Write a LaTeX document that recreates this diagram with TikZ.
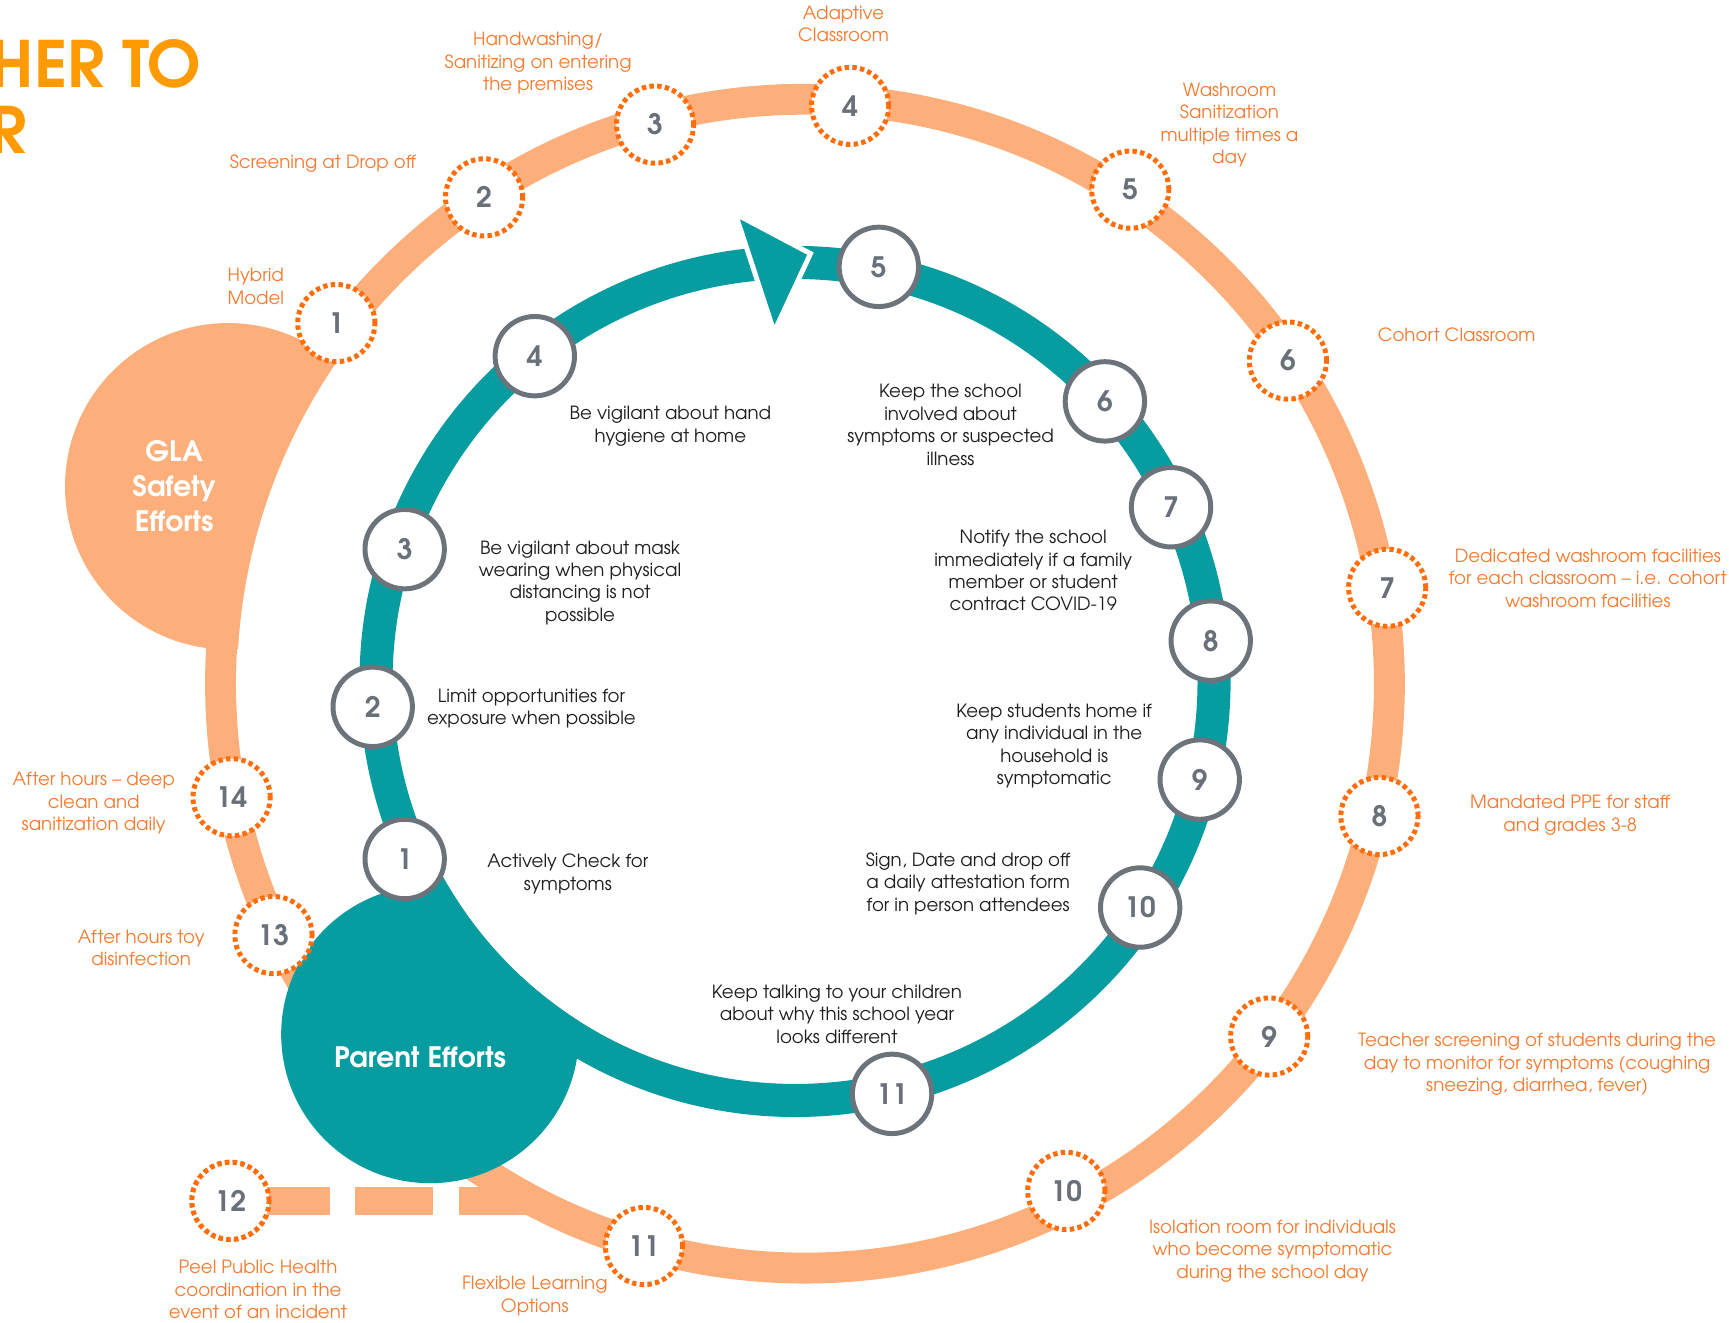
\documentclass[tikz,border=0pt]{standalone}
\usepackage{fontspec}
\setmainfont{texgyreadventor}[Extension=.otf,UprightFont=*-regular,BoldFont=*-bold,ItalicFont=*-italic,BoldItalicFont=*-bolditalic]
\definecolor{ringor}{HTML}{FDAF7B}
\definecolor{dotor}{HTML}{FF6D0A}
\definecolor{labor}{HTML}{F47B30}
\definecolor{titleor}{HTML}{FF9A00}
\definecolor{tealc}{HTML}{079C9F}
\definecolor{grayc}{HTML}{6C737B}
\definecolor{numgray}{HTML}{69707A}
\definecolor{inktext}{HTML}{1E1E1E}
\tikzset{
 ocirc/.style={circle, draw=dotor, line width=4.5pt, dash pattern=on 4pt off 3pt, fill=white, minimum size=70pt, inner sep=0pt, text=numgray, font=\bfseries\fontsize{25.5}{25.5}\selectfont},
 gcirc/.style={circle, draw=grayc, line width=4.5pt, fill=white, minimum size=72pt, inner sep=0pt, text=numgray, font=\bfseries\fontsize{25.5}{25.5}\selectfont},
 olab/.style={text=labor, align=center, font=\fontsize{16.5}{20.4}\selectfont, inner sep=0pt, yshift=-1.5pt},
 ilab/.style={text=inktext, align=center, font=\fontsize{16.5}{20.4}\selectfont, inner sep=0pt, yshift=-1.5pt},
 bigw/.style={text=white, align=center, font=\bfseries\fontsize{25.5}{32}\selectfont, inner sep=0pt},
 titletxt/.style={text=titleor, font=\bfseries\fontsize{58}{60}\selectfont, inner sep=0pt},
 dashband/.style={draw=ringor, line width=25.5pt, dash pattern=on 71pt off 23pt, dash phase=75pt},
}
\begin{document}
\begin{tikzpicture}[x=1pt,y=-1pt]
\useasboundingbox (0,0) rectangle (1568,1199);
\coordinate (oc) at (730,620);
\coordinate (tc) at (721,618);
\coordinate (ringjoin) at (487,1089);

% title
\node[titletxt, anchor=base east] (t1) at (183,79) {HER TO};
\node[titletxt, anchor=base east] (t2) at (24,139) {R};

% GLA blob + orange ring
\fill[ringor] (207,441) circle[radius=148pt];
\fill[white] (oc) circle[radius=515pt];
\draw[ringor, line width=28pt] (oc) circle[radius=530pt];

% dashed connector from 12
\node[ocirc] (o12) at (209,1089) {12};
\draw[dashband] (o12.center) -- (ringjoin);

% Parent blob + teal ring
\fill[tealc] (390,938) circle[radius=135pt];
\fill[white] (tc) circle[radius=365pt];
\draw[tealc, line width=30pt] (tc) circle[radius=380pt];
\draw[fill=tealc, draw=white, line width=4.5pt, line join=miter] (667,194) -- (735,230) -- (702,301) -- cycle;

% orange dotted circles
\node[ocirc] (o1) at (305,293) {1};
\node[ocirc] (o2) at (439,179) {2};
\node[ocirc] (o3) at (594,113) {3};
\node[ocirc] (o4) at (771,96) {4};
\node[ocirc] (o5) at (1025,172) {5};
\node[ocirc] (o6) at (1168,327) {6};
\node[ocirc] (o7) at (1258,533) {7};
\node[ocirc] (o8) at (1251,740) {8};
\node[ocirc] (o9) at (1151,940) {9};
\node[ocirc] (o10) at (967,1080) {10};
\node[ocirc] (o11) at (584,1130) {11};
\node[ocirc] (o12b) at (209,1089) {12};
\node[ocirc] (o13) at (248,848) {13};
\node[ocirc] (o14) at (210,723) {14};

% gray circles
\node[gcirc] (g1) at (367,779) {1};
\node[gcirc] (g2) at (338,641) {2};
\node[gcirc] (g3) at (367,498) {3};
\node[gcirc] (g4) at (485,323) {4};
\node[gcirc] (g5) at (797,242) {5};
\node[gcirc] (g6) at (1002,364) {6};
\node[gcirc] (g7) at (1062,460) {7};
\node[gcirc] (g8) at (1098,581) {8};
\node[gcirc] (g9) at (1088,707) {9};
\node[gcirc] (g10) at (1034,823) {10};
\node[gcirc] (g11) at (809,992) {11};

% blob texts
\node[bigw] (gla) at (158,441) {GLA\\Safety\\Efforts};
\node[bigw] (pe) at (381,959) {Parent Efforts};

% inner texts
\node[ilab] (i4) at (608,385) {Be vigilant about hand\\hygiene at home};
\node[ilab] (i6) at (862,384) {Keep the school\\involved about\\symptoms or suspected\\illness};
\node[ilab] (i3) at (526,527) {Be vigilant about mask\\wearing when physical\\distancing is not\\possible};
\node[ilab] (i7) at (937,516) {Notify the school\\immediately if a family\\member or student\\contract COVID-19};
\node[ilab] (i2) at (482,641) {Limit opportunities for\\exposure when possible};
\node[ilab] (i9) at (956,675) {Keep students home if\\any individual in the\\household is\\symptomatic};
\node[ilab] (i1) at (515,791) {Actively Check for\\symptoms};
\node[ilab] (i10) at (878,800) {Sign, Date and drop off\\a daily attestation form\\for in person attendees};
\node[ilab] (i11) at (759,918) {Keep talking to your children\\about why this school year\\looks different};

% orange labels
\node[olab] (l4) at (765,20) {Adaptive\\Classroom};
\node[olab] (l3) at (488,56) {Handwashing/\\Sanitizing on entering\\the premises};
\node[olab] (l2) at (293,147) {Screening at Drop off};
\node[olab] (l5) at (1115,112) {Washroom\\Sanitization\\multiple times a\\day};
\node[olab] (l1) at (232,258) {Hybrid\\Model};
\node[olab] (l6) at (1321,302) {Cohort Classroom};
\node[olab] (l7) at (1440,523) {Dedicated washroom facilities\\for each classroom -- i.e. cohort\\washroom facilities};
\node[olab] (l8) at (1424,738) {Mandated PPE for staff\\and grades 3-8};
\node[olab] (l9) at (1394,964) {Teacher screening of students during the\\day to monitor for symptoms (coughing\\sneezing, diarrhea, fever)};
\node[olab] (l10) at (1154,1133) {Isolation room for individuals\\who become symptomatic\\during the school day};
\node[olab] (l11) at (485,1174) {Flexible Learning\\Options};
\node[olab] (l12) at (234,1168) {Peel Public Health\\coordination in the\\event of an incident};
\node[olab] (l14) at (85,727) {After hours -- deep\\clean and\\sanitization daily};
\node[olab] (l13) at (128,858) {After hours toy\\disinfection};
\end{tikzpicture}
\end{document}
